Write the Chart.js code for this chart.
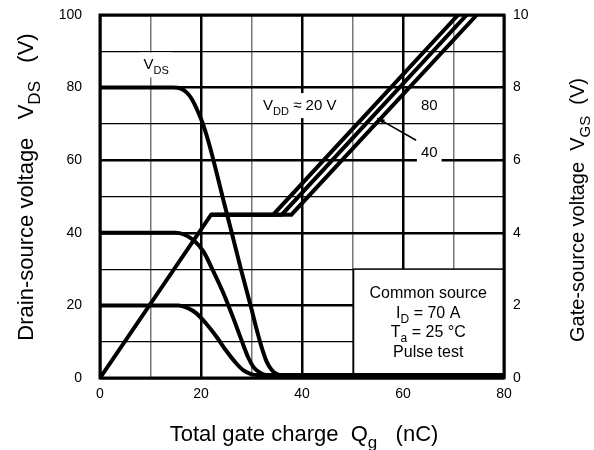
<!DOCTYPE html>
<html>
<head>
<meta charset="utf-8">
<script src="https://cdn.jsdelivr.net/npm/chart.js@4.4.0/dist/chart.umd.min.js"></script>
<style>
  html, body { margin: 0; padding: 0; background: #fff; }
  canvas { display: block; }
</style>
</head>
<body>
<canvas id="qgChart" width="594" height="450"></canvas>
<script>
// gate charge curves
const vds80Q = [0, 14.5, 16, 17.2, 18.2, 19.1, 20.5, 21.8, 23.1, 24.4, 26, 28, 30, 31, 32, 33, 34, 35, 36, 80];
const vds80V = [80, 80, 79.7, 78.6, 76.8, 74.3, 69.5, 63.5, 56.5, 49.2, 40.5, 29.5, 19, 13.5, 8.5, 4.5, 2.2, 1.1, 0.8, 0.8];
const vds40Q = [0, 15, 16.5, 18.5, 20.5, 22.4, 24.4, 26.4, 28, 29.4, 30.4, 31.5, 33, 80];
const vds40V = [40, 40, 39.6, 38, 34.8, 29.5, 23.5, 16.5, 10.5, 5.5, 3, 1.6, 0.8, 0.8];
const vds20Q = [0, 15.5, 17.3, 19.1, 21, 23, 25, 27, 28.5, 30, 31, 80];
const vds20V = [20, 20, 19.3, 17.8, 15, 11.5, 7.5, 4, 2, 1, 0.8, 0.8];

const vgs20Q = [0, 22, 34.3, 70.9];
const vgs20V = [0, 4.5, 4.5, 10];
const vgs40Q = [22, 36, 72.6];
const vgs40V = [4.5, 4.5, 10];
const vgs80Q = [22, 37.9, 74.6];
const vgs80V = [4.5, 4.5, 10];

const FONT = '"Liberation Sans", Arial, sans-serif';

function pts(xs, ys) {
    return xs.map((x, i) => ({ x: x, y: ys[i] }));
}

// draw text with subscripts, parts = [[text, isSub], ...]
function rich(ctx, parts, x, y, size, align) {
    let w = 0;
    parts.forEach(p => {
        ctx.font = (p[1] ? Math.round(size * 0.75) : size) + 'px ' + FONT;
        w += ctx.measureText(p[0]).width;
    });
    let cx = align === 'center' ? x - w / 2 : x;
    ctx.textAlign = 'left';
    ctx.textBaseline = 'alphabetic';
    ctx.fillStyle = '#000';
    parts.forEach(p => {
        const s = p[1] ? Math.round(size * 0.75) : size;
        ctx.font = s + 'px ' + FONT;
        ctx.fillText(p[0], cx, y + (p[1] ? size * 0.3 : 0));
        cx += ctx.measureText(p[0]).width;
    });
    return w;
}

function labelBox(ctx, parts, x, y, size, align) {
    let w = 0;
    parts.forEach(p => {
        ctx.font = (p[1] ? Math.round(size * 0.75) : size) + 'px ' + FONT;
        w += ctx.measureText(p[0]).width;
    });
    const left = align === 'center' ? x - w / 2 : x;
    ctx.fillStyle = '#fff';
    ctx.fillRect(left - 4, y - size - 2, w + 8, size + 10);
    rich(ctx, parts, x, y, size, align);
}

const decorations = {
    id: 'decorations',
    beforeDatasetsDraw(chart) {
        const ctx = chart.ctx, sx = chart.scales.x, sy = chart.scales.y;
        // condition box
        const l = sx.getPixelForValue(50.2), t = sy.getPixelForValue(30);
        const r = sx.getPixelForValue(80), b = sy.getPixelForValue(0);
        ctx.save();
        ctx.fillStyle = '#fff';
        ctx.fillRect(l, t, r - l, b - t);
        ctx.strokeStyle = '#000';
        ctx.lineWidth = 1.5;
        ctx.strokeRect(l, t, r - l, b - t);
        const cx = sx.getPixelForValue(65);
        rich(ctx, [['Common source']], cx, sy.getPixelForValue(22), 16, 'center');
        rich(ctx, [['I'], ['D', 1], [' = 70 A']], cx, sy.getPixelForValue(16.6), 16, 'center');
        rich(ctx, [['T'], ['a', 1], [' = 25 °C']], cx, sy.getPixelForValue(11.2), 16, 'center');
        rich(ctx, [['Pulse test']], cx, sy.getPixelForValue(5.9), 16, 'center');
        ctx.restore();
    },
    afterDatasetsDraw(chart) {
        const ctx = chart.ctx, sx = chart.scales.x, sy = chart.scales.y;
        const a = chart.chartArea;
        ctx.save();
        labelBox(ctx, [['V'], ['DS', 1]], sx.getPixelForValue(8.6), sy.getPixelForValue(85), 15, 'left');
        labelBox(ctx, [['V'], ['DD', 1], [' ≈ 20 V']], sx.getPixelForValue(32.3), sy.getPixelForValue(73.8), 15, 'left');
        labelBox(ctx, [['80']], sx.getPixelForValue(65.2), sy.getPixelForValue(73.8), 15, 'center');
        labelBox(ctx, [['40']], sx.getPixelForValue(65.2), sy.getPixelForValue(60.8), 15, 'center');

        // arrow to the 40 V line
        const x0 = sx.getPixelForValue(62.6), y0 = sy.getPixelForValue(65.5);
        const x1 = sx.getPixelForValue(54.9), y1 = sy.getPixelForValue(71.6);
        ctx.strokeStyle = '#000';
        ctx.fillStyle = '#000';
        ctx.lineWidth = 1.5;
        ctx.beginPath(); ctx.moveTo(x0, y0); ctx.lineTo(x1, y1); ctx.stroke();
        const ang = Math.atan2(y1 - y0, x1 - x0);
        ctx.beginPath();
        ctx.moveTo(x1, y1);
        ctx.lineTo(x1 - 8 * Math.cos(ang - 0.3), y1 - 8 * Math.sin(ang - 0.3));
        ctx.lineTo(x1 - 8 * Math.cos(ang + 0.3), y1 - 8 * Math.sin(ang + 0.3));
        ctx.closePath(); ctx.fill();

        // plot frame
        ctx.lineWidth = 3;
        ctx.strokeRect(a.left, a.top, a.right - a.left, a.bottom - a.top);

        // axis titles
        rich(ctx, [['Total gate charge  Q'], ['g', 1], ['   (nC)']], 304, 441, 22, 'center');
        ctx.save();
        ctx.translate(33, 187);
        ctx.rotate(-Math.PI / 2);
        rich(ctx, [['Drain-source voltage   V'], ['DS', 1], ['   (V)']], 0, 0, 22, 'center');
        ctx.restore();
        ctx.save();
        ctx.translate(584, 210);
        ctx.rotate(-Math.PI / 2);
        rich(ctx, [['Gate-source voltage  V'], ['GS', 1], ['  (V)']], 0, 0, 20, 'center');
        ctx.restore();
        ctx.restore();
    }
};

function vdsSet(data) {
    return {
        data: data, yAxisID: 'y', borderColor: '#000', borderWidth: 4,
        pointRadius: 0, fill: false, cubicInterpolationMode: 'monotone'
    };
}
function vgsSet(data) {
    return {
        data: data, yAxisID: 'y2', borderColor: '#000', borderWidth: 4,
        pointRadius: 0, fill: false, tension: 0, borderJoinStyle: 'miter'
    };
}

const tickFont = { family: FONT, size: 14 };

// keep the tick padding from pushing the plot top down
function fixVertical(width) {
    return s => {
        s.width = width;
        s.paddingTop = 0;
        s.paddingBottom = 0;
    };
}

new Chart(document.getElementById('qgChart').getContext('2d'), {
    type: 'line',
    data: {
        datasets: [
            vdsSet(pts(vds80Q, vds80V)),
            vdsSet(pts(vds40Q, vds40V)),
            vdsSet(pts(vds20Q, vds20V)),
            vgsSet(pts(vgs20Q, vgs20V)),
            vgsSet(pts(vgs40Q, vgs40V)),
            vgsSet(pts(vgs80Q, vgs80V))
        ]
    },
    options: {
        responsive: false,
        animation: false,
        layout: { padding: { top: 15, left: 0, right: 0, bottom: 0 } },
        plugins: { legend: { display: false }, tooltip: { enabled: false } },
        scales: {
            x: {
                type: 'linear', min: 0, max: 80,
                afterFit: s => { s.height = 72; },
                ticks: {
                    stepSize: 10, padding: 8, color: '#000', font: tickFont, maxRotation: 0,
                    callback: v => (v % 20 === 0 ? v : '')
                },
                grid: {
                    drawTicks: false,
                    color: c => (c.tick && c.tick.value % 20 === 0 ? '#000' : '#777'),
                    lineWidth: c => (c.tick && c.tick.value % 20 === 0 ? 2.5 : 1.5)
                },
                border: { display: false }
            },
            y: {
                position: 'left', min: 0, max: 100,
                afterFit: fixVertical(100),
                ticks: {
                    stepSize: 10, padding: 18, color: '#000', font: tickFont,
                    callback: v => (v % 20 === 0 ? v : '')
                },
                grid: {
                    drawTicks: false,
                    color: '#000',
                    lineWidth: c => (c.tick && c.tick.value % 20 === 0 ? 2.5 : 1.2)
                },
                border: { display: false }
            },
            y2: {
                position: 'right', min: 0, max: 10,
                afterFit: fixVertical(90),
                ticks: { stepSize: 2, padding: 9, color: '#000', font: tickFont },
                grid: { drawOnChartArea: false, drawTicks: false },
                border: { display: false }
            }
        }
    },
    plugins: [decorations]
});
</script>
</body>
</html>
